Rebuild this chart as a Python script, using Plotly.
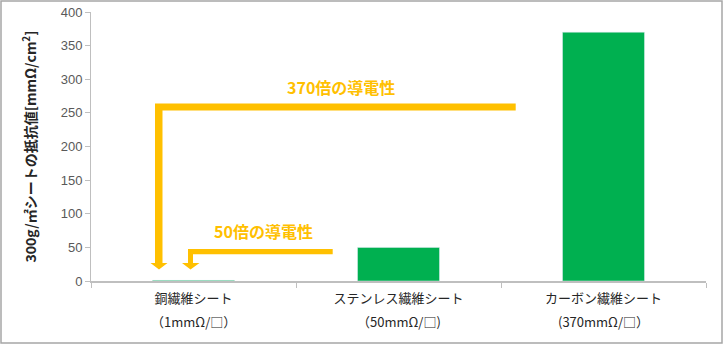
import plotly.graph_objects as go

names = ["銅繊維シート", "ステンレス繊維シート", "カーボン繊維シート"]
specs = ["（1mmΩ/□）", "（50mmΩ/□)", "(370mmΩ/□）"]
values = [1, 50, 370]
y_ticks = [0, 50, 100, 150, 200, 250, 300, 350, 400]
note_big = "370倍の導電性"
note_small = "50倍の導電性"

W, H = 723, 344
L, R, T, B = 91, 17, 12, 63
PW, PH = W - L - R, H - T - B

def px(x, y):
    return (x - L) / PW, (H - B - y) / PH

def path(points):
    s = ""
    for i, (x, y) in enumerate(points):
        a, b = px(x, y)
        s += ("M" if i == 0 else "L") + f"{a:.5f},{b:.5f} "
    return s + "Z"

orange = "#FFC000"
arrow1 = [(155, 103.5), (515.7, 103.5), (515.7, 110.5), (162.5, 110.5), (162.5, 263),
          (167.5, 263), (159, 269.5), (150.5, 263), (155, 263)]
arrow2 = [(188, 249), (332.7, 249), (332.7, 254.3), (193, 254.3), (193, 263),
          (199.5, 263), (190.5, 269.5), (182, 263), (188, 263)]

fig = go.Figure(go.Bar(x=names, y=values, marker_color="#00B050", width=0.4))

bx0, by0 = -L / PW, -B / PH
bx1, by1 = (W - L) / PW, (H - B) / PH
annotations = [
    dict(text=f"<b>{note_big}</b>", xref="paper", yref="paper", x=px(341, 87)[0], y=px(341, 87)[1],
         xanchor="center", yanchor="middle",
         showarrow=False, font=dict(size=16, color=orange, family="Noto Sans CJK JP")),
    dict(text=f"<b>{note_small}</b>", xref="paper", yref="paper", x=px(263.5, 231)[0], y=px(263.5, 231)[1],
         xanchor="center", yanchor="middle",
         showarrow=False, font=dict(size=16, color=orange, family="Noto Sans CJK JP")),
]
for n, s in zip(names, specs):
    annotations.append(dict(text=s, xref="x", yref="paper", x=n, y=px(0, 321)[1],
                            xanchor="center", yanchor="middle", showarrow=False,
                            font=dict(size=13, color="#262626", family="Noto Sans CJK JP")))

fig.update_layout(
    width=W, height=H, margin=dict(l=L, r=R, t=T, b=B, autoexpand=False),
    paper_bgcolor="white", plot_bgcolor="white", showlegend=False,
    font=dict(family="Noto Sans CJK JP", color="#262626"),
    shapes=[
        dict(type="path", path=path(arrow1), xref="paper", yref="paper", fillcolor=orange, line_width=0),
        dict(type="path", path=path(arrow2), xref="paper", yref="paper", fillcolor=orange, line_width=0),
        dict(type="rect", xref="paper", yref="paper", x0=bx0 + 1 / PW, y0=by0 + 1 / PH,
             x1=bx1 - 1 / PW, y1=by1 - 1 / PH, line=dict(color="#A6A6A6", width=1.5)),
    ],
    annotations=annotations,
)
fig.update_xaxes(showline=True, linecolor="#BFBFBF", linewidth=1.5, ticks="outside", tickson="boundaries",
                 ticklen=5, tickcolor="#BFBFBF", showgrid=False, automargin=False, layer="above traces",
                 ticklabelstandoff=5,
                 tickfont=dict(size=13, color="#262626", family="Noto Sans CJK JP"), range=[-0.5, 2.5])
fig.update_yaxes(range=[0, 400], tickvals=y_ticks, showline=True, linecolor="#BFBFBF", linewidth=1,
                 ticks="outside", ticklen=5, tickcolor="#BFBFBF", showgrid=False, zeroline=False,
                 automargin=False,
                 tickfont=dict(size=13, color="#595959", family="Liberation Sans"),
                 title=dict(text="<b>300g/㎡シートの抵抗値[mmΩ/cm<sup>2</sup>]</b>", standoff=20,
                            font=dict(size=14, color="#262626", family="Noto Sans CJK JP")))

fig.write_html("out.html")
